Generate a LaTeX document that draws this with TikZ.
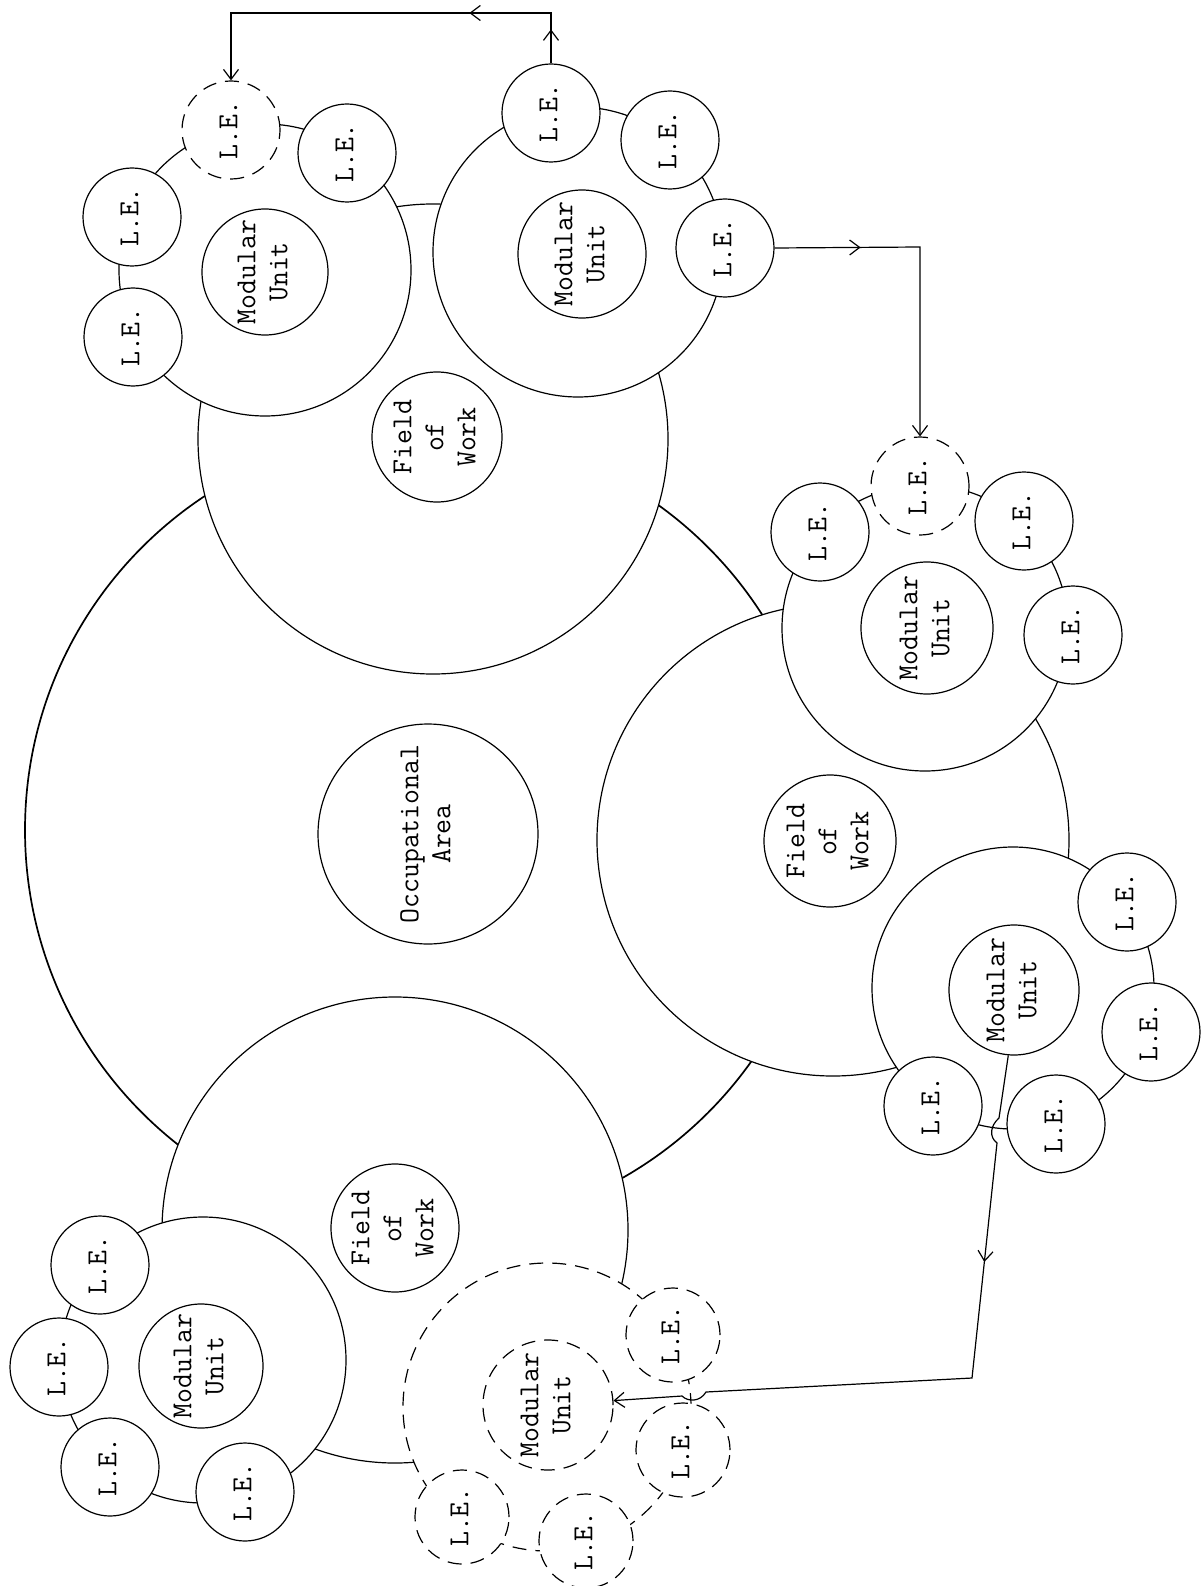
\documentclass[tikz,border=0pt]{standalone}
\usepackage{fontspec}
\usepackage{graphicx}
\usetikzlibrary{arrows.meta,decorations.markings}
\newcommand{\rtxt}[1]{\rotatebox{90}{\begin{tabular}{@{}c@{}}#1\end{tabular}}}
\tikzset{
  ring/.style={circle, draw, fill=white, line width=1.2pt, inner sep=0pt,
    font=\fontsize{29}{32}\selectfont\ttfamily},
  le/.style={ring, minimum size=98pt},
  lep/.style={ring, minimum size=94pt},
  mu/.style={ring, minimum size=130pt},
  dsh/.style={dash pattern=on 14pt off 9pt},
  tipx/.style={-{Straight Barb[length=10pt,width=15pt]}},
  conn/.style={line width=1.2pt, tipx},
}
\begin{document}
\begin{tikzpicture}[x=1pt,y=-1pt]
\fill[white] (0,0) rectangle (1203,1586);
\useasboundingbox (0,0) rectangle (1203,1586);

% occupational area
\node[ring, line width=1.7pt, minimum size=800pt] (occ) at (425,830) {};
\node[ring, minimum size=220pt] (occt) at (428,834) {\rtxt{Occupational\\Area}};

% fields of work
\node[ring, minimum size=470pt] (fw1) at (433,439) {};
\node[ring, minimum size=130pt] (fw1t) at (437,437) {\rtxt{Field\\of\\Work}};
\node[ring, minimum size=472pt] (fw2) at (833,840) {};
\node[ring, minimum size=132pt] (fw2t) at (830,841) {\rtxt{Field\\of\\Work}};
\node[ring, minimum size=466pt] (fw3) at (395,1230) {};
\node[ring, minimum size=128pt] (fw3t) at (395,1228) {\rtxt{Field\\of\\Work}};

% modular groups
\node[ring, minimum size=292pt] (mg1) at (265,270) {};
\node[mu, minimum size=126pt] (mu1) at (265,272) {\rtxt{Modular\\Unit}};
\node[ring, minimum size=290pt] (mg2) at (578,252) {};
\node[mu, minimum size=128pt] (mu2) at (582,254) {\rtxt{Modular\\Unit}};
\node[ring, minimum size=286pt] (mg3) at (925,628) {};
\node[mu, minimum size=132pt] (mu3) at (927,628) {\rtxt{Modular\\Unit}};
\node[ring, minimum size=282pt] (mg4) at (1013,988) {};
\node[mu] (mu4) at (1014,990) {\rtxt{Modular\\Unit}};
\node[ring, dsh, minimum size=288pt] (mg5) at (547,1407) {};
\node[mu, dsh] (mu5) at (548,1405) {\rtxt{Modular\\Unit}};
\node[ring, minimum size=286pt] (mg6) at (203,1360) {};
\node[mu, minimum size=124pt] (mu6) at (201,1366) {\rtxt{Modular\\Unit}};

% learning elements
\node[le] (le1a) at (132,217) {\rtxt{L.E.}};
\node[le] (le1b) at (133,337) {\rtxt{L.E.}};
\node[le, dsh] (le1c) at (231,130) {\rtxt{L.E.}};
\node[le] (le1d) at (347,153) {\rtxt{L.E.}};

\node[le] (le2a) at (551,113) {\rtxt{L.E.}};
\node[le] (le2b) at (670,140) {\rtxt{L.E.}};
\node[le] (le2c) at (725,248) {\rtxt{L.E.}};

\node[le] (le3a) at (820,532) {\rtxt{L.E.}};
\node[le, dsh] (le3b) at (920,486) {\rtxt{L.E.}};
\node[le] (le3c) at (1024,521) {\rtxt{L.E.}};
\node[le] (le3d) at (1073,635) {\rtxt{L.E.}};

\node[le] (le4a) at (1127,902) {\rtxt{L.E.}};
\node[le] (le4b) at (1151,1032) {\rtxt{L.E.}};
\node[le] (le4c) at (1056,1124) {\rtxt{L.E.}};
\node[le] (le4d) at (933,1106) {\rtxt{L.E.}};

\node[lep, dsh] (le5a) at (673,1335) {\rtxt{L.E.}};
\node[lep, dsh] (le5b) at (683,1450) {\rtxt{L.E.}};
\node[lep, dsh] (le5c) at (462,1517) {\rtxt{L.E.}};
\node[lep, dsh] (le5d) at (586,1541) {\rtxt{L.E.}};

\node[le] (le6a) at (100,1265) {\rtxt{L.E.}};
\node[le] (le6b) at (59,1367) {\rtxt{L.E.}};
\node[le] (le6c) at (110,1467) {\rtxt{L.E.}};
\node[le] (le6d) at (245,1492) {\rtxt{L.E.}};

% connectors
\coordinate (t1) at (551,13);
\coordinate (t2) at (231,13);
\draw[conn, decoration={markings,
   mark=at position 34pt with {\arrow{Straight Barb[length=10pt,width=15pt]}},
   mark=at position 132pt with {\arrow{Straight Barb[length=10pt,width=15pt]}}},
   postaction={decorate}]
  (le2a.north) -- (t1) -- (t2) -- (le1c.north);

\coordinate (r1) at (920,247);
\draw[conn, decoration={markings,
   mark=at position 86pt with {\arrow{Straight Barb[length=10pt,width=15pt]}}},
   postaction={decorate}]
  (le2c.east) -- (r1) -- (le3b.north);

\coordinate (h1) at (999,1118);
\coordinate (h2) at (997,1143);
\coordinate (b1) at (972,1378);
\coordinate (h3) at (706,1392);
\coordinate (h4) at (682,1396);
\draw[conn, decoration={markings,
   mark=at position 212pt with {\arrow{Straight Barb[length=10pt,width=15pt]}}},
   postaction={decorate}]
  (mu4.265) -- (h1) .. controls (990,1126) and (989,1137) .. (h2)
  -- (b1) -- (h3) .. controls (700,1402) and (688,1402) .. (h4) -- (mu5);
\end{tikzpicture}
\end{document}
